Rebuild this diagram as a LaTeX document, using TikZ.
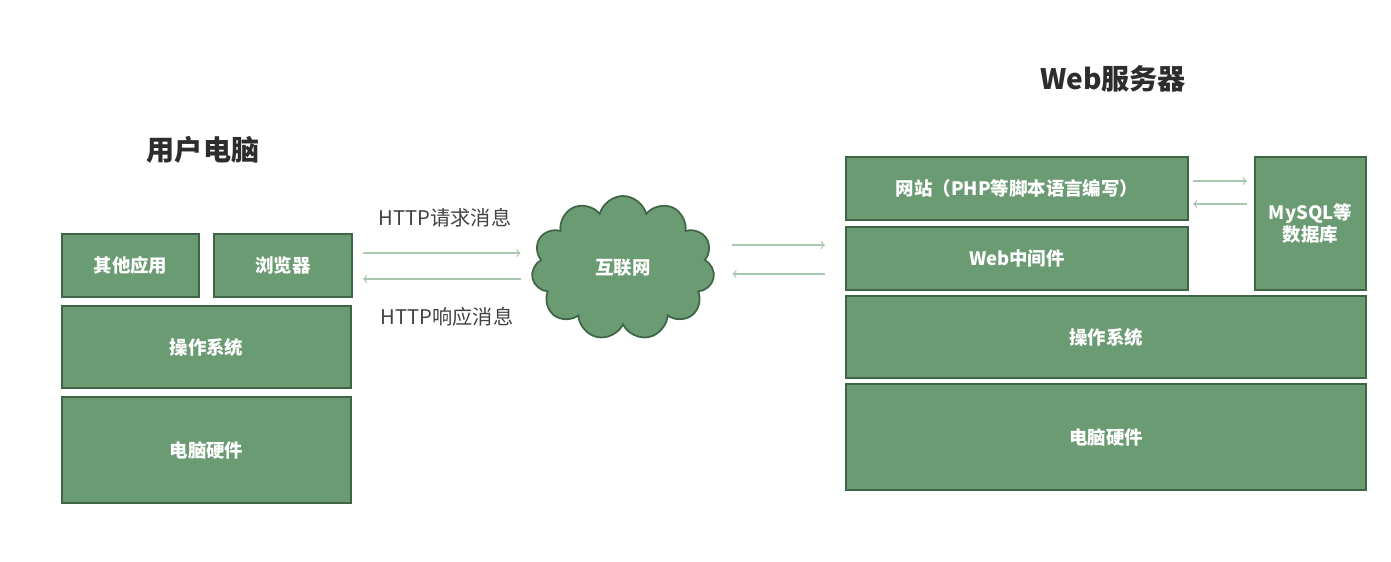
\documentclass[tikz,border=0pt]{standalone}
\usepackage{fontspec}
\usepackage{tikz}
\usepackage{xcolor}
\usetikzlibrary{calc, shapes.symbols}
\setmainfont{Noto Sans CJK SC}

\definecolor{boxfill}{RGB}{107,155,115}
\definecolor{boxline}{RGB}{62,102,70}
\definecolor{flowline}{RGB}{168,198,176}
\definecolor{titlegray}{RGB}{45,45,45}

\tikzset{
  layer/.style={draw=boxline, fill=boxfill, line width=1.1pt, text=white,
    font=\bfseries\fontsize{10.5}{13}\selectfont, inner sep=0pt, align=center},
  flow/.style={draw=flowline, line width=0.7pt, -to},
  title/.style={text=titlegray, font=\bfseries\fontsize{16}{19}\selectfont},
  msg/.style={text=titlegray!90, font=\fontsize{11.5}{14}\selectfont}
}

\begin{document}
\begin{tikzpicture}
      \useasboundingbox (0,0) rectangle (27.82,-11.22);

      \node[title] (client) at (4.06,-3.00) {用户电脑};
      \node[title] (server) at (22.26,-1.58) {Web服务器};

      \node[layer, minimum width=2.74cm, minimum height=1.26cm] (apps) at (2.61,-5.31) {其他应用};
      \node[layer, minimum width=2.76cm, minimum height=1.26cm] (browser) at (5.66,-5.31) {浏览器};
      \node[layer, minimum width=5.78cm, minimum height=1.64cm] (osL) at (4.13,-6.94) {操作系统};
      \node[layer, minimum width=5.78cm, minimum height=2.12cm] (hwL) at (4.13,-9.00) {电脑硬件};

      \node[layer, minimum width=6.84cm, minimum height=1.26cm] (site) at (20.34,-3.77) {网站（PHP等脚本语言编写）};
      \node[layer, minimum width=6.84cm, minimum height=1.26cm] (mid) at (20.34,-5.17) {Web中间件};
      \node[layer, minimum width=2.22cm, minimum height=2.66cm] (db) at (26.21,-4.47) {MySQL等\\数据库};
      \node[layer, minimum width=10.40cm, minimum height=1.64cm] (osR) at (22.12,-6.74) {操作系统};
      \node[layer, minimum width=10.40cm, minimum height=2.12cm] (hwR) at (22.12,-8.74) {电脑硬件};

      \node[cloud, cloud puffs=11, aspect=1.3, draw=boxline, fill=boxfill, line width=1pt,
        text=white, font=\bfseries\fontsize{10.5}{13}\selectfont,
        minimum width=3.66cm, minimum height=2.88cm] (net) at (12.46,-5.36) {互联网};

      \node[msg] (req) at (8.90,-4.36) {HTTP请求消息};
      \node[msg] (resp) at (8.94,-6.34) {HTTP响应消息};

      \draw[flow, shorten <=0.2cm, shorten >=0.24cm] ([yshift=0.25cm]browser.east) -- ([yshift=0.25cm]browser.east -| net.west);
      \draw[flow, shorten <=0.24cm, shorten >=0.2cm] ([yshift=-0.27cm]browser.east -| net.west) -- ([yshift=-0.27cm]browser.east);

      \draw[flow, shorten <=0.38cm, shorten >=0.4cm] ([yshift=0.27cm]mid.west -| net.east) -- ([yshift=0.27cm]mid.west);
      \draw[flow, shorten <=0.4cm, shorten >=0.38cm] ([yshift=-0.31cm]mid.west) -- ([yshift=-0.31cm]mid.west -| net.east);

      \draw[flow, shorten <=0.08cm, shorten >=0.14cm] ([yshift=0.15cm]site.east) -- ([yshift=0.15cm]site.east -| db.west);
      \draw[flow, shorten <=0.14cm, shorten >=0.08cm] ([yshift=-0.31cm]site.east -| db.west) -- ([yshift=-0.31cm]site.east);
    \end{tikzpicture}
\end{document}
